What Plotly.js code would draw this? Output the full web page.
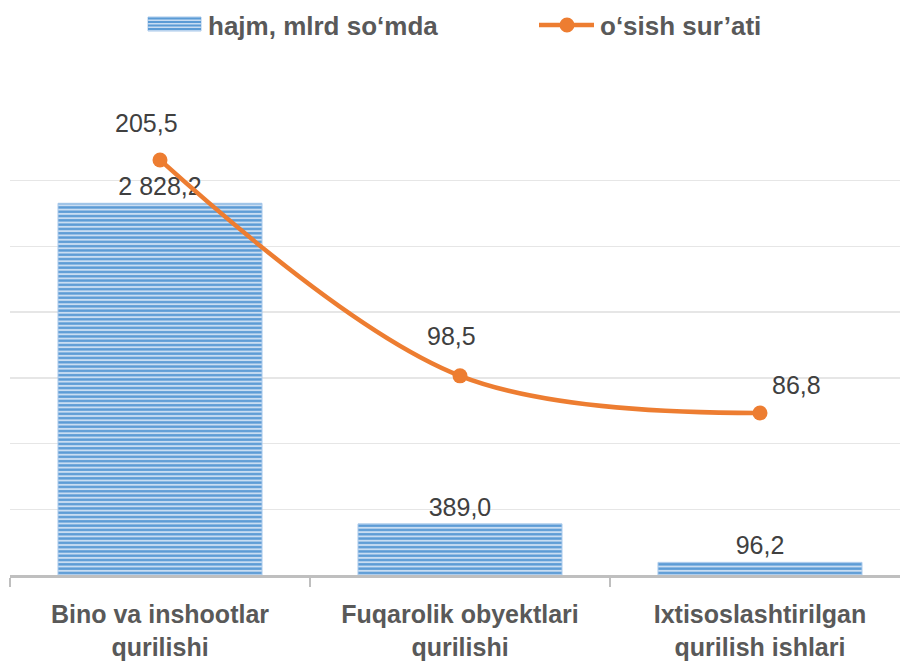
<!DOCTYPE html>
<html>
<head>
<meta charset="utf-8">
<script src="https://cdn.plot.ly/plotly-3.0.1.min.js"></script>
<style>html,body{margin:0;padding:0;background:#fff;}#chart{width:900px;height:661px;}</style>
</head>
<body>
<div id="chart"></div>
<script>
// ---- data ----
const categories = ["Bino va inshootlar<br>qurilishi", "Fuqarolik obyektlari<br>qurilishi", "Ixtisoslashtirilgan<br>qurilish ishlari"];
const volumeValues = [2828.2, 389.0, 96.2];      // hajm, mlrd so‘mda
const growthValues = [205.5, 98.5, 86.8];        // o‘sish sur’ati
const seriesNames = ["hajm, mlrd so‘mda", "o‘sish sur’ati"];
const gridValues = [500, 1000, 1500, 2000, 2500, 3000];

// ---- style constants ----
const FONT = "Liberation Sans, Arial, sans-serif";
const BLUE = "#5b9bd5", BLUE_LIGHT = "#c9ddf2", ORANGE = "#ed7d31";
const growthLabelShift = [[-14, 37], [-8, 40], [37, 28]];

// plot area geometry (pixels) used for the hand-drawn legend
const L = 10, R = 900, T = 115, B = 575;
const px = x => (x - L) / (R - L);
const py = y => (B - y) / (B - T);

const bars = {
  type: "bar",
  name: seriesNames[0],
  x: categories,
  y: volumeValues,
  width: 0.68,
  marker: {
    color: BLUE_LIGHT,
    line: {color: "#a8c8ea", width: 1},
    pattern: {shape: "-", fgcolor: BLUE, bgcolor: BLUE_LIGHT, size: 4.3, solidity: 0.55, fillmode: "replace"}
  },
  texttemplate: "%{y:,.1f}",
  textposition: "outside",
  textfont: {family: FONT, size: 25, color: "#404040"},
  cliponaxis: false,
  hoverinfo: "x+y",
  showlegend: false
};

const line = {
  type: "scatter",
  mode: "lines+markers",
  name: seriesNames[1],
  x: categories,
  y: growthValues,
  yaxis: "y2",
  line: {color: ORANGE, width: 4.5, shape: "spline", smoothing: 1},
  marker: {color: ORANGE, size: 15},
  cliponaxis: false,
  showlegend: false
};

const annotations = growthValues.map((v, i) => ({
  x: categories[i], y: Math.log10(v), xref: "x", yref: "y2",
  text: v.toFixed(1).replace(".", ","),
  showarrow: false, xshift: growthLabelShift[i][0], yshift: growthLabelShift[i][1],
  font: {family: FONT, size: 25, color: "#404040"}
}));

// custom legend
annotations.push({
  xref: "paper", yref: "paper", x: px(206), y: py(26), xanchor: "left", yanchor: "middle",
  text: "<b>" + seriesNames[0] + "</b>", showarrow: false,
  font: {family: FONT, size: 26, color: "#595959"}
});
annotations.push({
  xref: "paper", yref: "paper", x: px(598), y: py(26), xanchor: "left", yanchor: "middle",
  text: "<b>" + seriesNames[1] + "</b>", showarrow: false,
  font: {family: FONT, size: 26, color: "#595959"}
});

const shapes = [
  {type: "rect", xref: "paper", yref: "paper", x0: px(148), x1: px(201), y0: py(31), y1: py(17),
   fillcolor: BLUE_LIGHT, line: {color: "#a8c8ea", width: 1}}
];
[18.5, 22, 25.5, 29].forEach(yy => shapes.push({
  type: "line", xref: "paper", yref: "paper", x0: px(148), x1: px(201), y0: py(yy), y1: py(yy),
  line: {color: BLUE, width: 2}
}));
shapes.push({type: "line", xref: "paper", yref: "paper", x0: px(539), x1: px(594), y0: py(25), y1: py(25),
  line: {color: ORANGE, width: 4.5}});
shapes.push({type: "circle", xref: "paper", yref: "paper", x0: px(559.5), x1: px(574.5), y0: py(32.5), y1: py(17.5),
  fillcolor: ORANGE, line: {color: ORANGE, width: 0}});

const layout = {
  width: 900, height: 661,
  margin: {l: L, r: 900 - R, t: T, b: 661 - B, pad: 0},
  paper_bgcolor: "#fff", plot_bgcolor: "#fff",
  separators: ", ",
  bargap: 0.32,
  showlegend: false,
  font: {family: FONT},
  xaxis: {
    type: "category",
    range: [-0.5, 2.4667],
    showline: true, linecolor: "#bfbfbf", linewidth: 3,
    ticks: "outside", tickson: "boundaries", ticklen: 9, tickwidth: 2.5, tickcolor: "#bfbfbf",
    tickfont: {family: FONT, size: 25, color: "#595959", weight: "bold"},
    ticklabelstandoff: 15,
    showgrid: false, zeroline: false, fixedrange: true
  },
  yaxis: {
    range: [0, 3500],
    tickmode: "array", tickvals: gridValues,
    showticklabels: false, ticks: "",
    showgrid: true, gridcolor: "#e6e6e6", gridwidth: 1.5,
    zeroline: false, showline: false, fixedrange: true
  },
  yaxis2: {
    type: "log",
    range: [1.6989, 2.3793],
    overlaying: "y", side: "right",
    visible: false, showgrid: false, zeroline: false, fixedrange: true
  },
  annotations: annotations,
  shapes: shapes
};

Plotly.newPlot("chart", [bars, line], layout, {displayModeBar: false, staticPlot: true});
</script>
</body>
</html>
